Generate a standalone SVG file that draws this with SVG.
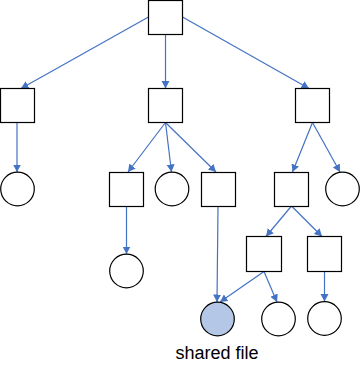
<svg xmlns="http://www.w3.org/2000/svg" width="360" height="376" viewBox="0 0 360 376">
<style>
.b{fill:#fff;stroke:#000;stroke-width:1.2}
.c{fill:#fff;stroke:#000;stroke-width:1.2}
.s{fill:#B4C7E7;stroke:#000;stroke-width:1.2}
.e{stroke:#4472C4;stroke-width:1.2;fill:none;marker-end:url(#a)}
text{font-family:"Liberation Sans",Arial,sans-serif;font-size:18px;fill:#000}
</style>
<defs>
<marker id="a" markerUnits="userSpaceOnUse" markerWidth="9" markerHeight="9" refX="7.5" refY="4" orient="auto">
<path d="M0,0 L7.5,4 L0,8 z" fill="#4472C4"/>
</marker>
</defs>
<rect width="360" height="376" fill="#fff"/>
<g id="connectors">
<line class="e" x1="148.5" y1="17" x2="21" y2="88.5"/>
<line class="e" x1="165.5" y1="34.5" x2="165.5" y2="88.5"/>
<line class="e" x1="182.5" y1="17" x2="309" y2="88.5"/>
<line class="e" x1="17" y1="122.5" x2="17" y2="172"/>
<line class="e" x1="165.5" y1="122.5" x2="128" y2="172"/>
<line class="e" x1="165.5" y1="122.5" x2="171.5" y2="172"/>
<line class="e" x1="165.5" y1="122.5" x2="216" y2="172"/>
<line class="e" x1="312.5" y1="122.5" x2="292.5" y2="172"/>
<line class="e" x1="312.5" y1="122.5" x2="340" y2="172"/>
<line class="e" x1="126.5" y1="206" x2="126.5" y2="254"/>
<line class="e" x1="218" y1="206" x2="217" y2="302"/>
<line class="e" x1="291.5" y1="206" x2="266" y2="236.5"/>
<line class="e" x1="291.5" y1="206" x2="322" y2="236.5"/>
<line class="e" x1="264" y1="271.5" x2="220" y2="302"/>
<line class="e" x1="264" y1="271.5" x2="277" y2="302"/>
<line class="e" x1="324.5" y1="271.5" x2="324.5" y2="301.5"/>
</g>
<g id="root"><rect class="b" x="148.5" y="0.5" width="34" height="34"/></g>
<g id="n1"><rect class="b" x="0.5" y="88.5" width="34" height="34"/></g>
<g id="n2"><rect class="b" x="148.5" y="88.5" width="34" height="34"/></g>
<g id="n3"><rect class="b" x="295.5" y="88.5" width="34" height="34"/></g>
<g id="n1c"><circle class="c" cx="17.5" cy="189" r="16.8"/></g>
<g id="n2a"><rect class="b" x="109.5" y="172.5" width="34" height="34"/></g>
<g id="n2b"><circle class="c" cx="172" cy="189" r="16.8"/></g>
<g id="n2c"><rect class="b" x="201.5" y="172.5" width="34" height="34"/></g>
<g id="n3a"><rect class="b" x="274.5" y="172.5" width="34" height="34"/></g>
<g id="n3b"><circle class="c" cx="342.5" cy="189" r="16.8"/></g>
<g id="n2ac"><circle class="c" cx="126.5" cy="271" r="16.8"/></g>
<g id="n3a1"><rect class="b" x="246.5" y="236.5" width="35" height="35"/></g>
<g id="n3a2"><rect class="b" x="307.5" y="236.5" width="34" height="35"/></g>
<g id="shared"><circle class="s" cx="217.5" cy="319" r="16.8"/><text x="217" y="359" text-anchor="middle">shared file</text></g>
<g id="n3a1c"><circle class="c" cx="278.5" cy="319" r="16.8"/></g>
<g id="n3a2c"><circle class="c" cx="324.5" cy="318.5" r="16.8"/></g>
</svg>
